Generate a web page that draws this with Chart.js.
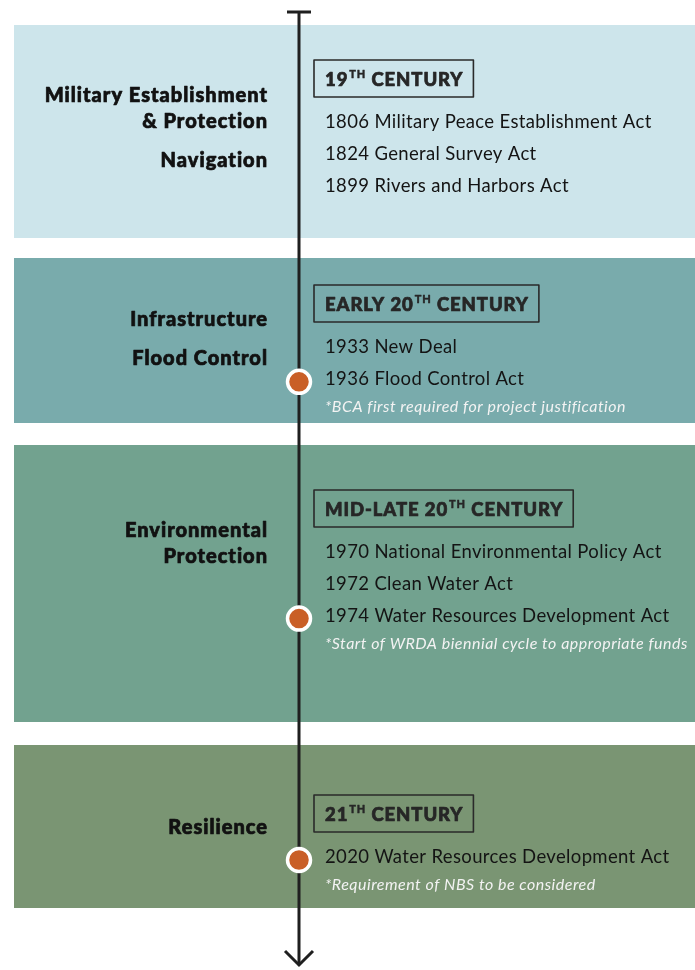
<!DOCTYPE html>
<html>
<head>
<meta charset="utf-8">
<script src="https://cdn.jsdelivr.net/npm/chart.js@4.4.0/dist/chart.umd.min.js"></script>
<style>
  html, body { margin: 0; padding: 0; background: #fff; }
  canvas { display: block; }
</style>
</head>
<body>
<canvas id="timelineChart" width="695" height="970"></canvas>
<script>
// data
const eras = ['19TH CENTURY', 'EARLY 20TH CENTURY', 'MID-LATE 20TH CENTURY', '21TH CENTURY'];
const themes = [
  ['Military Establishment\n& Protection', 'Navigation'],
  ['Infrastructure', 'Flood Control'],
  ['Environmental\nProtection'],
  ['Resilience']
];
const acts = [
  ['1806 Military Peace Establishment Act', '1824 General Survey Act', '1899 Rivers and Harbors Act'],
  ['1933 New Deal', '1936 Flood Control Act'],
  ['1970 National Environmental Policy Act', '1972 Clean Water Act', '1974 Water Resources Development Act'],
  ['2020 Water Resources Development Act']
];
const notes = ['', '*BCA first required for project justification', '*Start of WRDA biennial cycle to appropriate funds', '*Requirement of NBS to be considered'];
const milestoneYears = [null, 1936, 1974, 2020];

// layout (pixels)
const bandColors = ['#cde5eb', '#79abac', '#72a28f', '#7a9573'];
const bandTop = [25, 258, 445, 745];
const bandBottom = [238, 423, 722, 908];
const boxTop = [60, 285, 490, 795];
const themeTop = [95, 319, 530, 827];
const boxH = 37;
const rowGap = 31.8;
const timelineX = 299;
const fontFam = 'Lato, "Open Sans", sans-serif';

function actY(e, i) { return boxTop[e] + boxH + 25 + i * rowGap; }

let dotPoints = [];
milestoneYears.forEach((yr, e) => {
  if (yr == null) return;
  let idx = acts[e].findIndex(a => a.startsWith(String(yr)));
  dotPoints.push({ x: timelineX, y: actY(e, idx) + 3 });
});

// heavier text by filling and lightly stroking
function heavyText(ctx, s, x, y, w) {
  ctx.lineWidth = w;
  ctx.strokeStyle = ctx.fillStyle;
  ctx.lineJoin = 'round';
  ctx.strokeText(s, x, y);
  ctx.fillText(s, x, y);
}

const backdrop = {
  id: 'backdrop',
  beforeDatasetsDraw(chart) {
    const ctx = chart.ctx;
    const xs = chart.scales.x, ys = chart.scales.y;
    const px = v => xs.getPixelForValue(v);
    const py = v => ys.getPixelForValue(v);
    ctx.save();
    // bands
    eras.forEach((era, e) => {
      ctx.fillStyle = bandColors[e];
      ctx.fillRect(px(14), py(bandTop[e]), px(695) - px(14), py(bandBottom[e]) - py(bandTop[e]));
    });
    // timeline
    ctx.strokeStyle = '#1f1f1f';
    ctx.lineWidth = 3;
    ctx.beginPath();
    ctx.moveTo(px(timelineX), py(12));
    ctx.lineTo(px(timelineX), py(965));
    ctx.moveTo(px(287), py(12));
    ctx.lineTo(px(311), py(12));
    ctx.stroke();
    ctx.beginPath();
    ctx.moveTo(px(285), py(951));
    ctx.lineTo(px(timelineX), py(965));
    ctx.lineTo(px(313), py(951));
    ctx.stroke();

    ctx.textBaseline = 'middle';
    eras.forEach((era, e) => {
      // themes on the left
      ctx.fillStyle = '#111111';
      ctx.font = '900 20px ' + fontFam;
      ctx.letterSpacing = '1px';
      ctx.textAlign = 'right';
      let y = themeTop[e] + 1;
      themes[e].forEach(t => {
        t.split('\n').forEach((line, li) => {
          heavyText(ctx, line, px(268), py(y), 0.7);
          y += 26;
        });
        y += 13;
      });
      // header box
      ctx.textAlign = 'left';
      let m = era.match(/^(.*?\d+)(TH)(.*)$/);
      let cy = boxTop[e] + boxH / 2 + 1.5;
      let x = 325;
      ctx.fillStyle = '#262626';
      ctx.letterSpacing = '0.9px';
      ctx.font = '900 18.5px ' + fontFam;
      heavyText(ctx, m[1], px(x), py(cy), 0.7);
      x += ctx.measureText(m[1]).width;
      ctx.font = '900 11px ' + fontFam;
      heavyText(ctx, m[2], px(x + 1), py(cy - 6), 0.4);
      x += ctx.measureText(m[2]).width + 1;
      ctx.font = '900 18.5px ' + fontFam;
      heavyText(ctx, m[3], px(x), py(cy), 0.7);
      x += ctx.measureText(m[3]).width;
      ctx.strokeStyle = '#2a2a2a';
      ctx.lineWidth = 1.6;
      ctx.strokeRect(px(314), py(boxTop[e]), px(x + 10) - px(314), py(boxTop[e] + boxH) - py(boxTop[e]));
      // acts
      ctx.letterSpacing = '0.35px';
      ctx.fillStyle = '#141414';
      ctx.font = '18.5px ' + fontFam;
      acts[e].forEach((a, i) => {
        ctx.fillText(a, px(325), py(actY(e, i)));
      });
      // note
      if (notes[e]) {
        ctx.fillStyle = '#f3f3f3';
        ctx.letterSpacing = '0.5px';
        ctx.font = 'italic 16px ' + fontFam;
        ctx.fillText(notes[e], px(325), py(actY(e, acts[e].length - 1) + 28));
      }
    });
    ctx.restore();
  }
};

const ctx = document.getElementById('timelineChart').getContext('2d');
const timelineChart = new Chart(ctx, {
  type: 'scatter',
  data: {
    datasets: [{
      label: 'Milestones',
      data: dotPoints,
      pointRadius: 11.5,
      pointHoverRadius: 11.5,
      pointBackgroundColor: '#c95f27',
      pointBorderColor: '#ffffff',
      pointBorderWidth: 3.5,
      clip: false
    }]
  },
  options: {
    responsive: false,
    animation: false,
    layout: { padding: 0, autoPadding: false },
    plugins: { legend: { display: false }, tooltip: { enabled: false } },
    scales: {
      x: { type: 'linear', min: 0, max: 695, display: false },
      y: { type: 'linear', min: 0, max: 970, reverse: true, display: false }
    }
  },
  plugins: [backdrop]
});
</script>
</body>
</html>
